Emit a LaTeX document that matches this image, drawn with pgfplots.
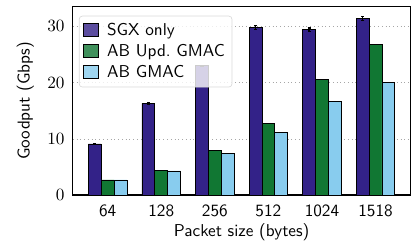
\documentclass[11pt,border={7pt 0pt 0pt 0pt}]{standalone}
\usepackage{pgfplots}
\pgfplotsset{compat=1.18}
\usepackage{fontspec}
\renewcommand{\familydefault}{\sfdefault}
\definecolor{sgx}{HTML}{332288}
\definecolor{abupd}{HTML}{117733}
\definecolor{abgmac}{HTML}{88CCEE}
\begin{document}
\begin{tikzpicture}
\begin{axis}[
  scale only axis,
  width=215pt, height=120pt,
  xmin=-0.65, xmax=5.65,
  ymin=0, ymax=33.5,
  xtick={0,1,2,3,4,5},
  xticklabels={64,128,256,512,1024,1518},
  ytick={0,10,20,30},
  tick style={draw=none},
  ymajorgrids,
  grid style={dotted, gray!70},
  axis line style={black, line width=0.8pt},
  xlabel={Packet size (bytes)},
  ylabel={Goodput (Gbps)},
  ylabel style={yshift=1pt},
  yticklabel style={xshift=-1.5pt},
  xticklabel style={yshift=2pt},
  xlabel style={yshift=3pt},
  bar width=0.24,
  ybar=0pt,
  legend style={at={(0.018,0.952)}, anchor=north west, draw=gray!30, fill=white, fill opacity=0.8, text opacity=1, rounded corners=2pt, row sep=0pt, inner sep=2.5pt},
  legend cell align=left,
  legend image code/.code={\draw[#1, draw=black, sharp corners] (0cm,-0.13cm) rectangle (0.33cm,0.16cm); \path (0.45cm,0);},
]
\addplot[fill=sgx, draw=black, line width=0.5pt, error bars/.cd, y dir=both, y explicit, error bar style={line width=1pt, black}, error mark options={line width=0.8pt, mark size=1pt, rotate=90}] coordinates {
 (0,9.1) +- (0,0.1)
 (1,16.3) +- (0,0.15)
 (2,23.0) +- (0,0.1)
 (3,29.8) +- (0,0.3)
 (4,29.4) +- (0,0.3)
 (5,31.4) +- (0,0.35)
};
\addplot[fill=abupd, draw=black, line width=0.5pt] coordinates {
 (0,2.7) (1,4.4) (2,8.0) (3,12.8) (4,20.5) (5,26.8)
};
\addplot[fill=abgmac, draw=black, line width=0.5pt] coordinates {
 (0,2.7) (1,4.3) (2,7.4) (3,11.2) (4,16.6) (5,20.1)
};
\legend{SGX only, AB Upd.\ GMAC, AB GMAC}
\end{axis}
\end{tikzpicture}
\end{document}
